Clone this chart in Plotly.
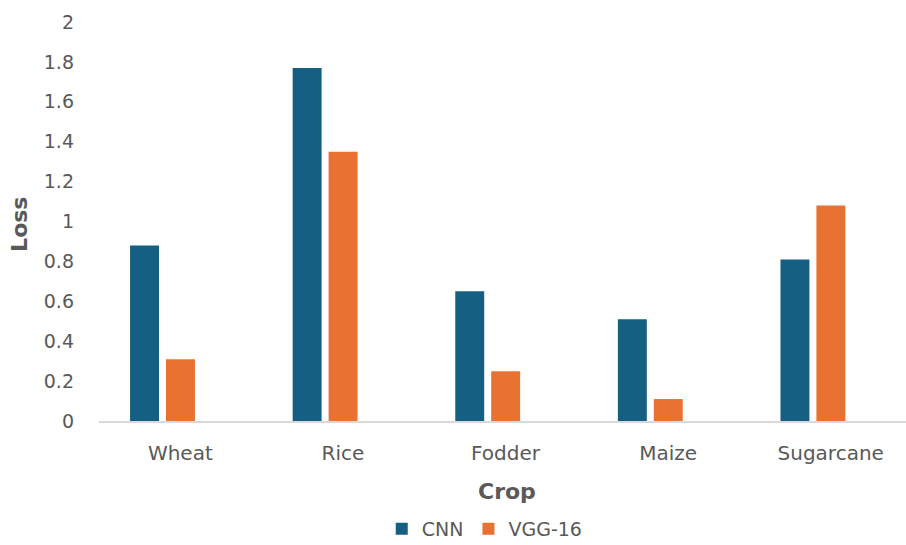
import plotly.graph_objects as go

# Loss per crop for the two models
crops = ["Wheat", "Rice", "Fodder", "Maize", "Sugarcane"]
cnn_loss = [0.88, 1.77, 0.65, 0.51, 0.81]
vgg16_loss = [0.31, 1.35, 0.25, 0.11, 1.08]

y_ticks = [0, 0.2, 0.4, 0.6, 0.8, 1, 1.2, 1.4, 1.6, 1.8, 2]
y_tick_text = ["0", "0.2", "0.4", "0.6", "0.8", "1", "1.2", "1.4", "1.6", "1.8", "2"]

BLUE = "#156082"
ORANGE = "#E97132"
GREY = "#595959"
FONT = "DejaVu Sans"

fig = go.Figure()
fig.add_trace(go.Bar(
    x=crops, y=cnn_loss, name="CNN",
    marker=dict(color=BLUE, line=dict(width=0)),
    offset=-0.309, width=0.178,
))
fig.add_trace(go.Bar(
    x=crops, y=vgg16_loss, name="VGG-16",
    marker=dict(color=ORANGE, line=dict(width=0)),
    offset=-0.088, width=0.178,
))

fig.update_layout(
    width=906, height=545,
    margin=dict(l=99, r=0, t=22, b=123.5, autoexpand=False),
    paper_bgcolor="white", plot_bgcolor="white",
    font=dict(family=FONT, size=19, color=GREY),
    showlegend=True,
    legend=dict(
        orientation="h", x=0.478, xanchor="center", y=-0.318, yanchor="bottom",
        font=dict(family=FONT, size=19, color=GREY),
        itemwidth=30, tracegroupgap=0,
    ),
    xaxis=dict(
        type="category", range=[-0.5, 4.463],
        showline=True, linecolor="#D9D9D9", linewidth=1.5,
        showgrid=False, ticks="", ticklabelstandoff=13,
        tickfont=dict(family=FONT, size=20, color=GREY),
    ),
    yaxis=dict(
        range=[0, 2], tickvals=y_ticks, ticktext=y_tick_text,
        showline=False, showgrid=False, zeroline=False, ticks="",
        ticklabelstandoff=24,
        tickfont=dict(family=FONT, size=19, color=GREY),
    ),
    annotations=[
        dict(text="<b>Crop</b>", xref="paper", yref="paper",
             x=0.505, y=-0.1765, xanchor="center", yanchor="middle",
             showarrow=False, font=dict(family=FONT, size=22, color=GREY)),
        dict(text="<b>Loss</b>", xref="paper", yref="paper",
             x=-0.0979, y=0.494, xanchor="center", yanchor="middle",
             textangle=-90, showarrow=False,
             font=dict(family=FONT, size=22, color=GREY)),
    ],
)

fig.write_html("out.html")
